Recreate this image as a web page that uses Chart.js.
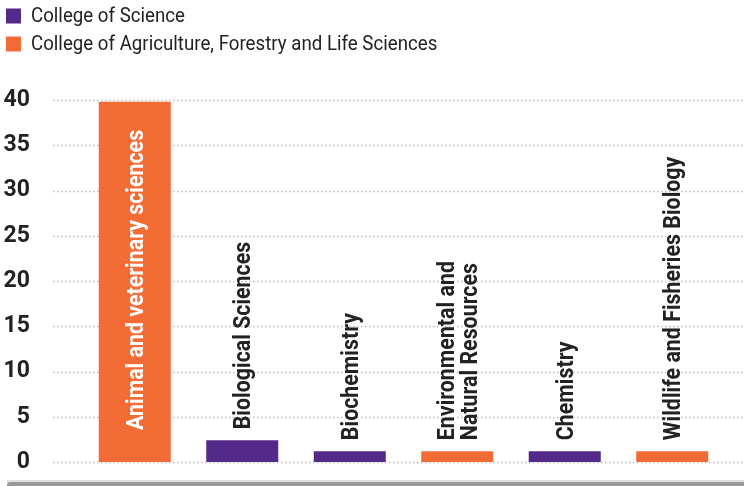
<!DOCTYPE html>
<html lang="en">
<head>
    <meta charset="UTF-8">
    <title>Majors by college</title>
    <style>
        html, body { margin: 0; padding: 0; background: #fff; }
        #wrap { position: relative; width: 744px; height: 486px; }
    </style>
</head>
<body>
    <div id="wrap">
        <canvas id="chart" width="744" height="486"></canvas>
    </div>

    <script src="https://cdn.jsdelivr.net/npm/chart.js"></script>
    <script>
        // Data
        const categories = [
            'Animal and veterinary sciences',
            'Biological Sciences',
            'Biochemistry',
            ['Environmental and', 'Natural Resources'],
            'Chemistry',
            'Wildlife and Fisheries Biology'
        ];
        const values = [39.8, 2.4, 1.2, 1.2, 1.2, 1.2];
        const barCollege = [1, 0, 0, 1, 0, 1];
        const collegeNames = ['College of Science', 'College of Agriculture, Forestry and Life Sciences'];
        const collegeColors = ['#53298A', '#F36B35'];
        const yMin = 0, yMax = 40, yStep = 5;

        const FONT = 'Roboto, "Liberation Sans", sans-serif';
        const SQUEEZE = 0.89; // fake a condensed face

        // dotted grid lines across the full width, legend, bottom rule
        const decor = {
            id: 'decor',
            beforeDatasetsDraw(chart) {
                const ctx = chart.ctx;
                const y = chart.scales.y;
                ctx.save();
                ctx.strokeStyle = '#bdbdbd';
                ctx.lineWidth = 1.5;
                ctx.setLineDash([1.5, 2.5]);
                y.ticks.forEach(t => {
                    const py = Math.round(y.getPixelForValue(t.value)) + 0.5;
                    ctx.beginPath();
                    ctx.moveTo(53, py);
                    ctx.lineTo(chart.width, py);
                    ctx.stroke();
                });
                ctx.restore();
            },
            afterDraw(chart) {
                const ctx = chart.ctx;
                ctx.save();
                // legend
                collegeNames.forEach((name, i) => {
                    const cy = 16 + i * 28;
                    ctx.fillStyle = collegeColors[i];
                    ctx.fillRect(6, cy - 7.5, 15, 15);
                    ctx.save();
                    ctx.translate(31, cy);
                    ctx.scale(0.89, 1);
                    ctx.fillStyle = '#222';
                    ctx.font = '21px ' + FONT;
                    ctx.textBaseline = 'middle';
                    ctx.fillText(name, 0, 1);
                    ctx.restore();
                });
                // bottom rule
                ctx.fillStyle = '#e0e0e0';
                ctx.fillRect(7, 480, chart.width - 7, 2);
                ctx.fillStyle = '#9a9a9a';
                ctx.beginPath();
                ctx.roundRect(7, 482, chart.width, 6, [3, 0, 0, 0]);
                ctx.fill();
                ctx.restore();
            }
        };

        // rotated labels above (or inside) each bar
        const barLabels = {
            id: 'barLabels',
            afterDatasetsDraw(chart) {
                const ctx = chart.ctx;
                const meta = chart.getDatasetMeta(0);
                const top = chart.chartArea.top;
                ctx.save();
                ctx.font = 'bold 24px ' + FONT;
                ctx.textBaseline = 'middle';
                ctx.textAlign = 'left';
                meta.data.forEach((bar, i) => {
                    const lines = [].concat(categories[i]);
                    const w = Math.max(...lines.map(l => ctx.measureText(l).width)) * SQUEEZE;
                    let startY, color;
                    if (bar.y - 11 - w < top) {
                        startY = bar.base - 32;
                        color = '#fff';
                    } else {
                        startY = bar.y - 11;
                        color = '#222';
                    }
                    const lh = 23;
                    lines.forEach((line, k) => {
                        const cx = bar.x + 1 + (k - (lines.length - 1) / 2) * lh;
                        ctx.save();
                        ctx.translate(cx, startY);
                        ctx.rotate(-Math.PI / 2);
                        ctx.scale(SQUEEZE, 1);
                        ctx.fillStyle = color;
                        ctx.fillText(line, 0, 1);
                        ctx.restore();
                    });
                });
                ctx.restore();
            }
        };

        const ctx = document.getElementById('chart').getContext('2d');
        const chart = new Chart(ctx, {
            type: 'bar',
            data: {
                labels: categories,
                datasets: [{
                    data: values,
                    backgroundColor: barCollege.map(c => collegeColors[c]),
                    borderWidth: 0,
                    categoryPercentage: 1,
                    barPercentage: 0.67
                }]
            },
            options: {
                responsive: false,
                animation: false,
                layout: {
                    padding: { top: 100, right: 18, bottom: 24, left: 0 }
                },
                plugins: {
                    legend: { display: false },
                    tooltip: { enabled: false }
                },
                scales: {
                    x: { display: false },
                    y: {
                        min: yMin,
                        max: yMax,
                        ticks: {
                            stepSize: yStep,
                            color: '#222',
                            padding: 43,
                            font: { family: FONT, size: 23, weight: 'bold' }
                        },
                        grid: { display: false },
                        border: { display: false },
                        afterFit(scale) {
                            scale.width = 81;
                            scale.paddingTop = 14;
                            scale.paddingBottom = 14;
                        }
                    }
                }
            },
            plugins: [decor, barLabels]
        });
    </script>
</body>
</html>
